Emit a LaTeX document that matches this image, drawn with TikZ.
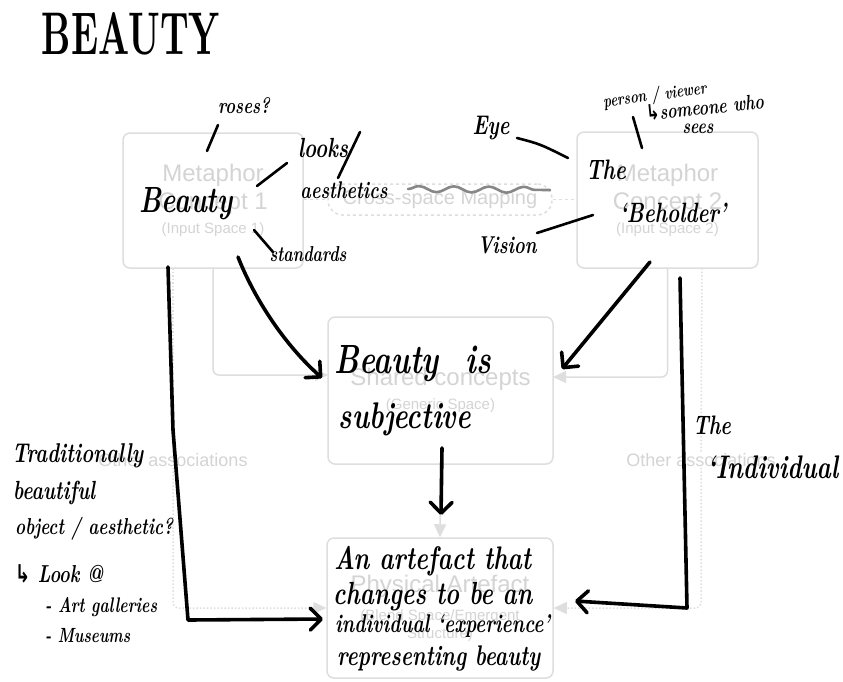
\documentclass[tikz,border=0pt]{standalone}
\usepackage{fontspec}
\usepackage{graphicx}
\newfontfamily\tfont{Liberation Sans}
\newfontfamily\symf{DejaVu Sans}
\usetikzlibrary{arrows.meta,decorations.pathmorphing}
\definecolor{tgray}{RGB}{212,212,212}
\definecolor{tline}{RGB}{222,222,222}
\definecolor{wavyc}{RGB}{135,135,135}
\newcommand\hwfont{\bfseries\itshape}
\newcommand\hw[2]{\resizebox{#1pt}{!}{\scalebox{1}[1.35]{\hwfont #2}}}
\tikzset{
  tbox/.style={draw=tline, line width=1.5pt, rounded corners=7pt, text=tgray,
    font=\tfont\fontsize{24}{28}\selectfont, align=center, inner sep=0pt},
  tconn/.style={draw=tline, line width=1.5pt, rounded corners=6pt,
    -{Triangle[length=13pt,width=12pt]}},
  tdotline/.style={draw=tline, line width=1.5pt, dotted},
  tdot/.style={draw=tline, line width=1.5pt, dotted, rounded corners=6pt,
    -{Triangle[length=13pt,width=12pt]}},
  tlabel/.style={text=tgray, font=\tfont\fontsize{18}{22}\selectfont, inner sep=1pt},
  hw/.style={inner sep=0pt, text=black},
  hwline/.style={line width=2.6pt, line cap=round, line join=round},
  hwarrow/.style={line width=3.6pt, line cap=round, line join=round,
    -{Straight Barb[round,length=11pt,width=22pt]}}
}
\begin{document}
\begin{tikzpicture}[x=1pt,y=-1pt]
\useasboundingbox[fill=white] (0,0) rectangle (843,681);

% ---------- faded template ----------
\node[tbox, minimum width=180pt, minimum height=135pt] (c1) at (213,200.5)
  {Metaphor\\Concept 1\\[-4pt]{\fontsize{15}{18}\selectfont (Input Space 1)}};
\node[tbox, minimum width=181pt, minimum height=136pt] (c2) at (667.5,200)
  {Metaphor\\Concept 2\\[-4pt]{\fontsize{15}{18}\selectfont (Input Space 2)}};
\node[tbox, dashed, rounded corners=15pt, minimum width=224pt, minimum height=31pt,
  font=\tfont\fontsize{20}{24}\selectfont] (csm) at (440,199.5) {Cross-space Mapping};
\node[tbox, minimum width=225pt, minimum height=147pt] (sc) at (440.5,390.5)
  {Shared concepts\\[-4pt]{\fontsize{15}{18}\selectfont (Generic Space)}};
\node[tbox, minimum width=226pt, minimum height=140pt] (pa) at (440,608)
  {Physical Artefact\\{\fontsize{15}{18}\selectfont (Blend Space/Emergent}\\[-10pt]{\fontsize{15}{18}\selectfont Structure)}};

\draw[tline, line width=1.5pt, dashed] (csm.west -| c1.east) -- (csm.west);
\draw[tline, line width=1.5pt, dashed] (csm.east) -- (csm.east -| c2.west);

\coordinate (scL) at (328,375);
\coordinate (scR) at (553,377);
\draw[tconn] (c1.south) |- (scL);
\draw[tconn] (c2.south) |- (scR);
\draw[tconn] (sc.south) -- (pa.north);

\coordinate (d1) at (173,268);
\coordinate (d2) at (702,268);
\node[tlabel] (oa1) at (173,460) {Other associations};
\node[tlabel] (oa2) at (701,460) {Other associations};
\draw[tdotline] (d1) -- (oa1.north);
\draw[tdot] (oa1.south) |- (pa.west);
\draw[tdotline] (d2) -- (oa2.north);
\draw[tdot] (oa2.south) |- (pa.east);

% gray wavy stroke
\coordinate (w1) at (408,189);
\coordinate (w2) at (550,190);
\draw[wavyc, line width=2.6pt, line cap=round, decorate,
  decoration={snake, segment length=35pt, amplitude=3pt}] (w1) -- (w2);

% ---------- handwriting ----------
\node[hw] (hTitle) at (131,34) {\resizebox{178pt}{42pt}{\bfseries BEAUTY}};
\node[hw] (hBeauty) at (186,204) {\hw{93}{Beauty}};
\node[hw] (hRoses) at (244,106) {\hw{52}{roses?}};
\node[hw] (hLooks) at (323,148) {\hw{50}{looks}};
\node[hw] (hAesth) at (344,190) {\hw{87}{aesthetics}};
\node[hw] (hStand) at (308,254) {\hw{77}{standards}};
\node[hw] (hEye) at (491,128) {\hw{37}{Eye}};
\node[hw, rotate=8] (hPerson) at (655,96) {\hw{104}{person / viewer}};
\node[hw, rotate=6] (hSomeone) at (705,107) {\hw{118}{{\symf ↳}someone who}};
\node[hw] (hSees) at (698,129) {\hw{31}{sees}};
\node[hw] (hThe) at (606,170) {\hw{40}{The}};
\node[hw] (hBeholder) at (673,213) {\hw{107}{`Beholder'}};
\node[hw] (hVision) at (507,245) {\hw{59}{Vision}};
\node[hw] (hBis) at (413,364) {\hw{157}{Beauty\hspace{0.9em}is}};
\node[hw] (hSubj) at (405,419) {\hw{132}{subjective}};
\node[hw, anchor=west] (hTrad) at (12,456) {\hw{131}{Traditionally}};
\node[hw, anchor=west] (hBeaut) at (13,493) {\hw{82}{beautiful}};
\node[hw, anchor=west] (hObj) at (15,529) {\hw{158}{object / aesthetic?}};
\node[hw, anchor=west] (hLook) at (15,574) {\hw{88}{{\symf ↳} Look @}};
\node[hw, anchor=west] (hArt) at (45,607) {\hw{112}{- Art galleries}};
\node[hw, anchor=west] (hMus) at (45,636) {\hw{85}{- Museums}};
\node[hw] (hThe2) at (712,425) {\hw{38}{The}};
\node[hw, anchor=west] (hIndiv) at (707,467) {\hw{131}{`Individual}};
\node[hw, anchor=west] (p1) at (334,561) {\hw{197}{An artefact that}};
\node[hw, anchor=west] (p2) at (333,597) {\hw{199}{changes to be an}};
\node[hw, anchor=west] (p3) at (335,626) {\hw{215}{individual `experience'}};
\node[hw, anchor=west] (p4) at (337,658) {\hw{203}{representing beauty}};

% annotation strokes
\coordinate (r1) at (218,125); \coordinate (r2) at (207,151);
\coordinate (b1) at (257,186); \coordinate (b2) at (287,163);
\coordinate (s1) at (360,132); \coordinate (s2) at (338,178);
\coordinate (t1) at (254,230); \coordinate (t2) at (273,252);
\coordinate (e1) at (517,138); \coordinate (e2) at (568,158);
\coordinate (q1) at (633,117); \coordinate (q2) at (642,148);
\coordinate (v1) at (537,233); \coordinate (v2) at (593,215);
\draw[hwline] (r1) -- (r2);
\draw[hwline] (b1) -- (b2);
\draw[hwline] (s1) -- (s2);
\draw[hwline] (t1) -- (t2);
\draw[hwline] (e1) .. controls (540,144) .. (e2);
\draw[hwline] (q1) -- (q2);
\draw[hwline] (v1) -- (v2);

% hand-drawn arrows
\coordinate (a1s) at (238,257); \coordinate (a1e) at (322,378);
\coordinate (a2s) at (650,262); \coordinate (a2e) at (562,369);
\coordinate (a3s) at (168,267); \coordinate (a3m) at (173,430);
\coordinate (a3c) at (188,620); \coordinate (a3e) at (323,619);
\coordinate (a4s) at (680,278); \coordinate (a4c) at (687,608); \coordinate (a4e) at (575,601);
\coordinate (a5s) at (442,448); \coordinate (a5e) at (441,515);
\draw[hwarrow] (a1s) .. controls (255,300) and (285,345) .. (a1e);
\draw[hwarrow] (a2s) -- (a2e);
\draw[hwarrow] (a3s) -- (a3m) -- (a3c) -- (a3e);
\draw[hwarrow] (a4s) -- (a4c) -- (a4e);
\draw[hwarrow] (a5s) -- (a5e);
\end{tikzpicture}
\end{document}
